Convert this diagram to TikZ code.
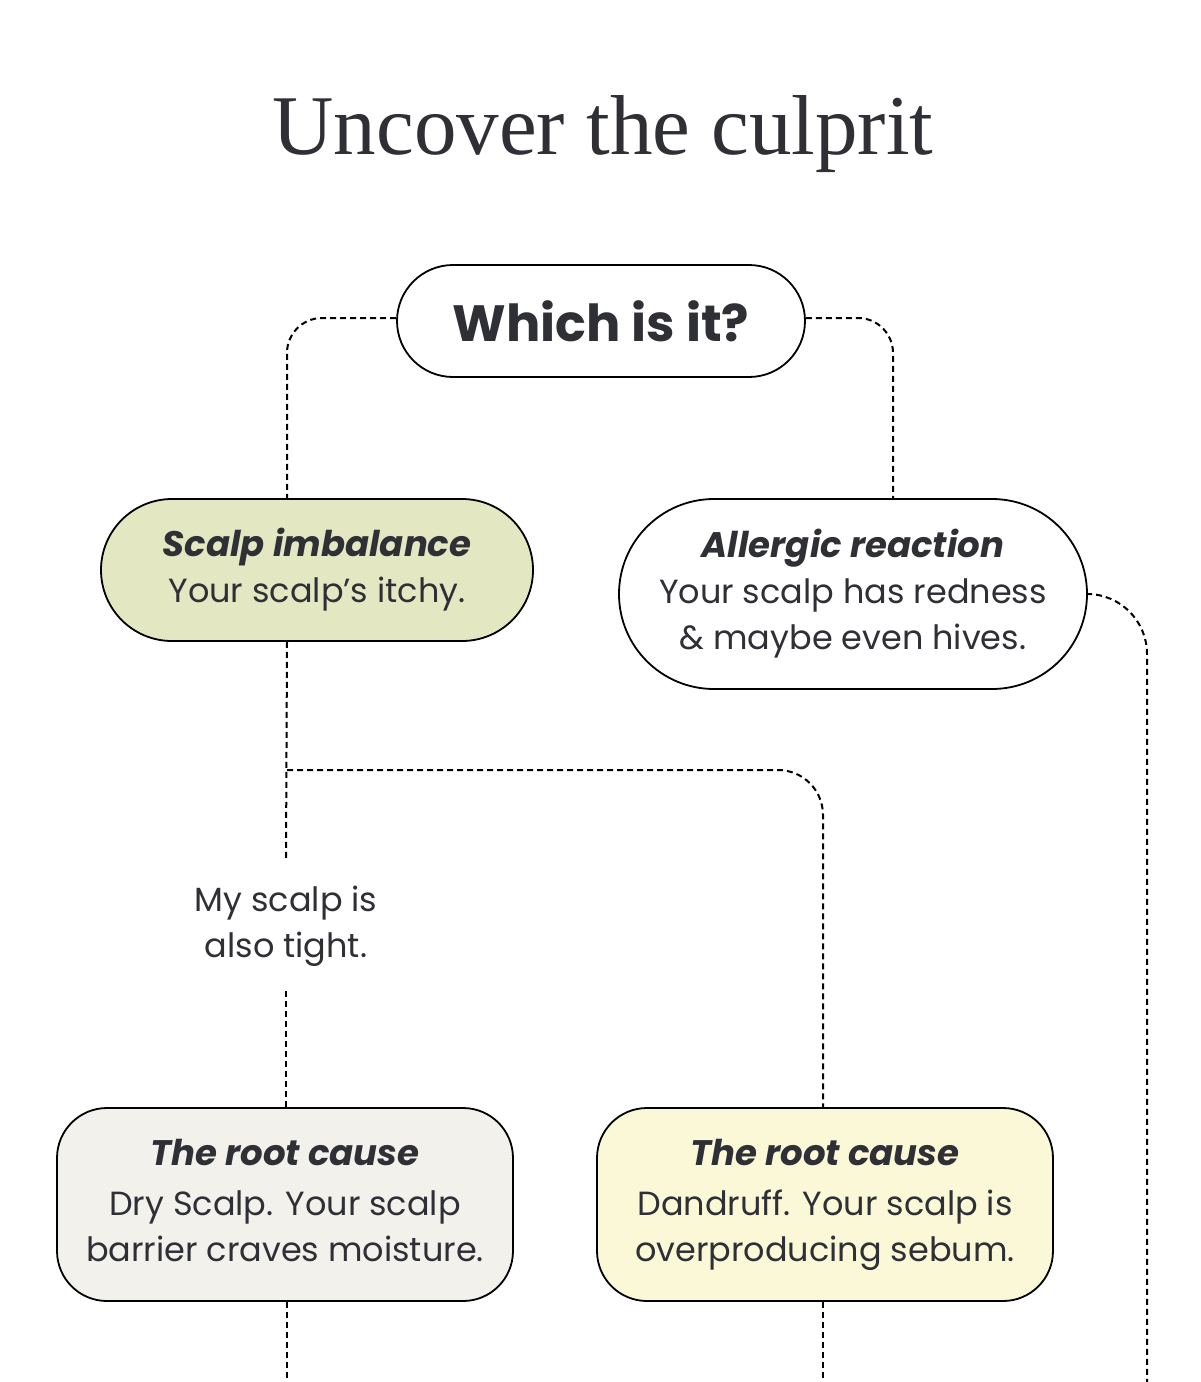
\documentclass[tikz,border=0pt]{standalone}
\usepackage{fontspec}
\setmainfont{Poppins}
\newfontfamily\titlefont{Liberation Serif}
\definecolor{ink}{HTML}{2F2F36}
\definecolor{sage}{HTML}{E3E8C3}
\definecolor{stone}{HTML}{F3F1EC}
\definecolor{cream}{HTML}{FAF8D7}
\newcommand{\hd}[1]{{\fontsize{35.5}{46}\selectfont\bfseries\itshape #1\strut}}
\begin{document}
\begin{tikzpicture}[x=1pt,y=-1pt,
  pill/.style={draw=black, line width=1.8pt, rectangle, inner sep=0pt, align=center, text=ink},
  conn/.style={draw=black, line width=2pt, dash pattern=on 6pt off 4pt},
  body/.style={font=\fontsize{33.5}{46}\selectfont}
]
\useasboundingbox (0,0) rectangle (1200,1382);
\fill[white] (0,0) rectangle (1200,1382);

\node[text=ink, font=\titlefont\fontsize{85}{92}\selectfont] (title) at (603,134) {Uncover the culprit};

\node[pill, fill=white, minimum width=408, minimum height=112, rounded corners=56,
      font=\fontsize{51}{56}\selectfont\bfseries] (which) at (601,321) {Which is it?};

\node[pill, fill=sage, minimum width=432, minimum height=142, rounded corners=71,
      body] (scalp) at (317,570) {\hd{Scalp imbalance}\\Your scalp’s itchy.\strut};

\node[pill, fill=white, minimum width=468, minimum height=190, rounded corners=95,
      body] (allergic) at (853,594) {\hd{Allergic reaction}\\Your scalp has redness\strut\\\& maybe even hives.\strut};

\node[text=ink, align=center, body, inner xsep=0pt, inner ysep=20pt] (tight) at (286,925) {My scalp is\strut\\also tight.\strut};

\node[pill, fill=stone, minimum width=456, minimum height=193, rounded corners=50,
      body] (rootL) at (285,1204.5) {\hd{The root cause}\\[4pt]Dry Scalp. Your scalp\strut\\barrier craves moisture.\strut};

\node[pill, fill=cream, minimum width=456, minimum height=193, rounded corners=50,
      body] (rootR) at (825,1204.5) {\hd{The root cause}\\[4pt]Dandruff. Your scalp is\strut\\overproducing sebum.\strut};

\coordinate (scalpTop) at ([xshift=-30pt]scalp.north);
\coordinate (scalpBot) at ([xshift=-30pt]scalp.south);
\coordinate (allTop) at ([xshift=40pt]allergic.north);
\coordinate (br) at (287,770);
\coordinate (endA) at (1147,1382);
\coordinate (endL) at (287,1382);
\coordinate (endR) at (823,1382);

\draw[conn, rounded corners=35pt] ([yshift=3pt]which.west) -| (scalpTop);
\draw[conn, rounded corners=35pt] ([yshift=3pt]which.east) -| (allTop);
\draw[conn] (scalpBot) -- (tight.north);
\draw[conn] (tight.south) -- (rootL.north -| tight.south);
\draw[conn, rounded corners=45pt] (br) -| ([xshift=-2pt]rootR.north);
\draw[conn, rounded corners=60pt] (allergic.east) -| (endA);
\draw[conn] ([xshift=2pt]rootL.south) -- (endL);
\draw[conn] ([xshift=-2pt]rootR.south) -- (endR);
\end{tikzpicture}
\end{document}
